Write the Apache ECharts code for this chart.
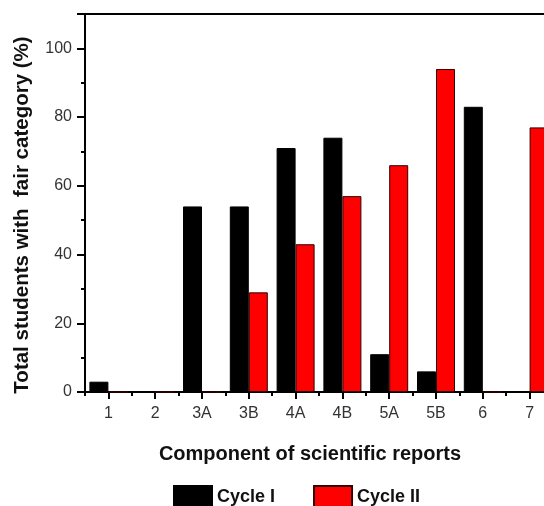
<!DOCTYPE html>
<html>
<head>
<meta charset="utf-8">
<script src="https://cdn.jsdelivr.net/npm/echarts@6/dist/echarts.min.js"></script>
<style>
html,body{margin:0;padding:0;background:#fff;}
#chart{width:544px;height:506px;}
</style>
</head>
<body>
<div id="chart"></div>
<script>
const categories = ['1','2','3A','3B','4A','4B','5A','5B','6','7'];
const cycleI  = [3, 0, 54, 54, 71, 74, 11, 6, 83, 0];
const cycleII = [0, 0, 0, 29, 43, 57, 66, 94, 0, 77];
const seriesNames = ['Cycle I', 'Cycle II'];

const FONT = 'Liberation Sans, Arial, sans-serif';
const NARROW = 'Liberation Sans Narrow, Liberation Sans, Arial, sans-serif';
const chart = echarts.init(document.getElementById('chart'), null, {renderer: 'canvas'});
chart.setOption({
  animation: false,
  backgroundColor: '#fff',
  grid: {left: 85, top: 14, width: 468, bottom: 114, outerBoundsMode: 'none', containLabel: false},
  legend: {
    data: seriesNames, left: 173, top: 485, padding: 0, itemWidth: 38, itemHeight: 22, itemGap: 38,
    icon: 'rect',
    textStyle: {fontFamily: FONT, fontWeight: 'bold', fontSize: 18, color: '#111'}
  },
  xAxis: [{
    type: 'category', data: categories, position: 'bottom',
    axisLine: {show: true, onZero: false, lineStyle: {color: '#000', width: 2}},
    axisTick: {show: true, alignWithLabel: true, length: 7, lineStyle: {color: '#000', width: 2}},
    axisLabel: {fontFamily: NARROW, fontSize: 16, color: '#333', margin: 14, interval: 0},
    name: 'Component of scientific reports', nameLocation: 'middle', nameGap: 52,
    nameTextStyle: {fontFamily: FONT, fontWeight: 'bold', fontSize: 20, color: '#111', padding: [0, 18, 0, 0]}
  }, {
    type: 'category', data: categories, position: 'bottom', offset: 0,
    axisLine: {show: false, onZero: false},
    axisTick: {show: true, alignWithLabel: false, length: 4, lineStyle: {color: '#000', width: 2}},
    axisLabel: {show: false}
  }, {
    type: 'category', data: categories, position: 'top', offset: 0,
    axisLine: {show: true, onZero: false, lineStyle: {color: '#000', width: 2}},
    axisTick: {show: false},
    axisLabel: {show: false}
  }],
  yAxis: [{
    type: 'value', min: 0, max: 110, interval: 20, position: 'left',
    axisLine: {show: true, onZero: false, lineStyle: {color: '#000', width: 2}},
    axisTick: {show: true, length: 8, lineStyle: {color: '#000', width: 2}},
    axisLabel: {fontFamily: NARROW, fontSize: 16, color: '#333', margin: 13,
      formatter: v => v > 100 ? '' : v},
    splitLine: {show: false},
    name: 'Total students with  fair category (%)', nameLocation: 'middle', nameGap: 52,
    nameTextStyle: {fontFamily: FONT, fontWeight: 'bold', fontSize: 20.5, color: '#111', padding: [0, 24, 0, 0]}
  }, {
    type: 'value', min: 0, max: 110, interval: 10, position: 'left', offset: 0,
    axisLine: {show: false, onZero: false},
    axisTick: {show: true, length: 4, lineStyle: {color: '#000', width: 2}},
    axisLabel: {show: false},
    splitLine: {show: false}
  }],
  series: [{
    name: seriesNames[0], type: 'bar', data: cycleI, barWidth: 19, barGap: '0%',
    itemStyle: {color: '#000', borderColor: '#000', borderWidth: 1}
  }, {
    name: seriesNames[1], type: 'bar', data: cycleII, barWidth: 19, barGap: '0%',
    itemStyle: {color: '#ff0000', borderColor: '#300', borderWidth: 1}
  }]
});
</script>
</body>
</html>
